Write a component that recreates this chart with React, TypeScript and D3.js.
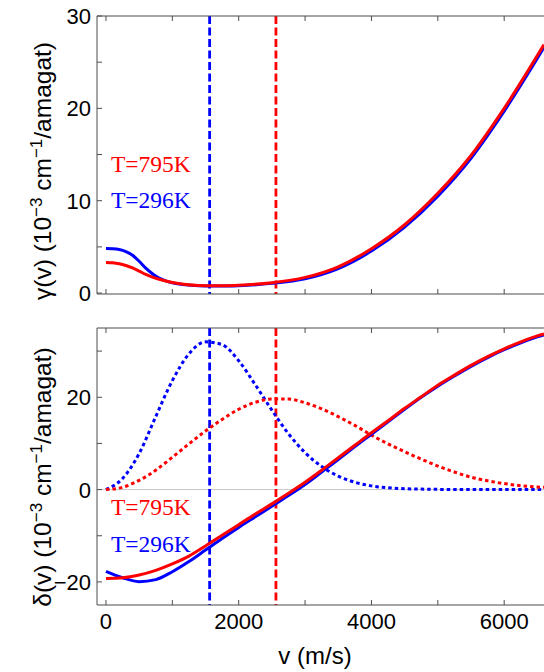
import React from "react";
import * as d3 from "d3";

// ---------- data ----------
const vTop = [0, 100, 200, 300, 400, 500, 600, 700, 800, 900, 1000, 1200, 1400, 1600, 1800, 2000, 2500, 3000, 3500, 4000, 4500, 5000, 5500, 6000, 6600];
const gammaBlue = [4.82, 4.8, 4.72, 4.5, 4.1, 3.45, 2.7, 2.1, 1.62, 1.33, 1.12, 0.9, 0.8, 0.76, 0.76, 0.8, 1.05, 1.55, 2.65, 4.55, 7.15, 10.5, 14.6, 19.7, 26.6];
const gammaRed = [3.32, 3.28, 3.17, 2.98, 2.72, 2.38, 2.02, 1.72, 1.5, 1.3, 1.14, 0.93, 0.82, 0.79, 0.8, 0.85, 1.12, 1.7, 2.85, 4.8, 7.4, 10.8, 14.9, 20.0, 26.9];

const vBot = [0, 250, 500, 750, 1000, 1250, 1500, 1750, 2000, 2250, 2500, 2750, 3000, 3250, 3500, 3750, 4000, 4250, 4500, 4750, 5000, 5250, 5500, 5750, 6000, 6250, 6500, 6600];
const deltaBlue = [-17.7, -19.1, -19.95, -19.5, -17.8, -15.6, -13.1, -10.6, -8.2, -5.9, -3.6, -1.3, 1.1, 3.8, 6.5, 9.3, 12.0, 14.7, 17.4, 20.0, 22.4, 24.6, 26.7, 28.6, 30.3, 31.8, 33.1, 33.5];
const deltaRed = [-19.25, -19.1, -18.5, -17.5, -16.1, -14.4, -12.2, -9.9, -7.6, -5.3, -3.1, -0.8, 1.6, 4.2, 6.9, 9.6, 12.3, 14.9, 17.6, 20.1, 22.6, 24.8, 26.9, 28.8, 30.5, 32.0, 33.3, 33.7];
const distBlue = [0, 2.4, 7.8, 15.8, 23.6, 29.4, 32.0, 31.4, 27.9, 22.7, 17.2, 12.1, 8.0, 5.0, 2.9, 1.6, 0.8, 0.4, 0.2, 0.1, 0.05, 0, 0, 0, 0, 0, 0, 0];
const distRed = [0, 0.5, 2.0, 4.2, 7.0, 9.9, 12.7, 15.2, 17.4, 18.9, 19.6, 19.6, 18.8, 17.5, 15.8, 13.9, 11.8, 9.9, 8.2, 6.6, 5.1, 3.8, 2.7, 1.9, 1.3, 0.85, 0.55, 0.48];

const probableSpeeds = [1562, 2561]; // blue (296 K), red (795 K)
const seriesColors = ["#0000ff", "#ff0000"];
const tempLabels = ["T=296K", "T=795K"];

const xMajor = [0, 2000, 4000, 6000];
const xMinor = [1000, 3000, 5000];
const topMajor = [0, 10, 20, 30];
const topMinor = [5, 15, 25];
const botMajor = [-20, 0, 20];
const botMinor = [-10, 10, 30];

// ---------- layout ----------
const W = 544, H = 672;
const left = 97, right = 545;
const x = d3.scaleLinear().domain([-135, 6600]).range([left, left + (6600 + 135) * (447 / 6735)]);
const yTop = d3.scaleLinear().domain([-0.1, 30]).range([294, 16]);
const yBot = d3.scaleLinear().domain([-25, 35]).range([605, 328]);

const SANS = "'Liberation Sans', Arial, sans-serif";
const SERIF = "'Liberation Serif', 'Times New Roman', serif";
const FRAME = "#4d4d4d";

function fmt(n: number) {
  return n < 0 ? "\u2212" + Math.abs(n) : String(n);
}

function Panel({ y, major, minor, showX, id, children }: any) {
  const [y0, y1] = y.range();
  const clip = `clip-${id}`;
  return (
    <g>
      <defs>
        <clipPath id={clip}>
          <rect x={left} y={y1} width={right - left} height={y0 - y1} />
        </clipPath>
      </defs>
      <g clipPath={`url(#${clip})`}>{children}</g>
      <path d={`M${right},${y1}H${left}V${y0}H${right}`} fill="none" stroke={FRAME} strokeWidth={1} />
      {xMajor.concat(xMinor).map((v) => (
        <g key={"xt" + v}>
          <line x1={x(v)} x2={x(v)} y1={y0} y2={y0 - 5} stroke={FRAME} />
          <line x1={x(v)} x2={x(v)} y1={y1} y2={y1 + 5} stroke={FRAME} />
        </g>
      ))}
      {major.concat(minor).map((v: number) => (
        <line key={"yt" + v} x1={left} x2={left + 5} y1={y(v)} y2={y(v)} stroke={FRAME} />
      ))}
      {major.map((v: number) => (
        <text key={"yl" + v} x={91} y={y(v)} dy="0.36em" textAnchor="end" fontFamily={SANS} fontSize={22} fill="#000">
          {fmt(v)}
        </text>
      ))}
      {showX &&
        xMajor.map((v) => (
          <text key={"xl" + v} x={x(v)} y={629} textAnchor="middle" fontFamily={SANS} fontSize={22} fill="#000">
            {fmt(v)}
          </text>
        ))}
    </g>
  );
}

export default function App() {
  const lineTop = (vals: number[]) =>
    d3.line<number>().x((_, i) => x(vTop[i])).y((d) => yTop(d)).curve(d3.curveMonotoneX)(vals) as string;
  const lineBot = (vals: number[]) =>
    d3.line<number>().x((_, i) => x(vBot[i])).y((d) => yBot(d)).curve(d3.curveMonotoneX)(vals) as string;

  const vlines = (y: any) =>
    probableSpeeds.map((v, i) => (
      <line key={"vl" + i} x1={x(v)} x2={x(v)} y1={y.range()[1]} y2={y.range()[0]} stroke={seriesColors[i]} strokeWidth={2.8} strokeDasharray="8,3.5" />
    ));

  const labels = (y1: number, y2: number) => (
    <g fontFamily={SERIF} fontSize={23.5}>
      <text x={111} y={y1} fill={seriesColors[1]}>{tempLabels[1]}</text>
      <text x={111} y={y2} fill={seriesColors[0]}>{tempLabels[0]}</text>
    </g>
  );

  return (
    <svg width={W} height={H} style={{ position: "absolute", left: 0, top: 0, background: "#fff" }}>
      <rect x={0} y={0} width={W} height={H} fill="#fff" />
      <Panel y={yTop} major={topMajor} minor={topMinor} showX={false} id="top">
        {vlines(yTop)}
        <path d={lineTop(gammaBlue)} fill="none" stroke={seriesColors[0]} strokeWidth={3} />
        <path d={lineTop(gammaRed)} fill="none" stroke={seriesColors[1]} strokeWidth={3} />
      </Panel>
      <Panel y={yBot} major={botMajor} minor={botMinor} showX={true} id="bot">
        <line x1={left} x2={right} y1={yBot(0)} y2={yBot(0)} stroke="#c8c8c8" strokeWidth={1} />
        {vlines(yBot)}
        <path d={lineBot(distBlue)} fill="none" stroke={seriesColors[0]} strokeWidth={3} strokeDasharray="3.5,3" />
        <path d={lineBot(distRed)} fill="none" stroke={seriesColors[1]} strokeWidth={3} strokeDasharray="3.5,3" />
        <path d={lineBot(deltaBlue)} fill="none" stroke={seriesColors[0]} strokeWidth={3} />
        <path d={lineBot(deltaRed)} fill="none" stroke={seriesColors[1]} strokeWidth={3} />
      </Panel>
      {labels(172, 208)}
      {labels(515, 552)}
      <text transform="translate(51,171) rotate(-90)" textAnchor="middle" fontFamily={SANS} fontSize={24.5} fill="#000">
        γ(v) (10<tspan dy={-9} fontSize={17}>−3</tspan><tspan dy={9}> cm</tspan><tspan dy={-9} fontSize={17}>−1</tspan><tspan dy={9}>/amagat)</tspan>
      </text>
      <text transform="translate(51,477) rotate(-90)" textAnchor="middle" fontFamily={SANS} fontSize={24.5} fill="#000">
        δ(v) (10<tspan dy={-9} fontSize={17}>−3</tspan><tspan dy={9}> cm</tspan><tspan dy={-9} fontSize={17}>−1</tspan><tspan dy={9}>/amagat)</tspan>
      </text>
      <text x={x(3150)} y={664} textAnchor="middle" fontFamily={SANS} fontSize={24} fill="#000">
        v (m/s)
      </text>
    </svg>
  );
}
